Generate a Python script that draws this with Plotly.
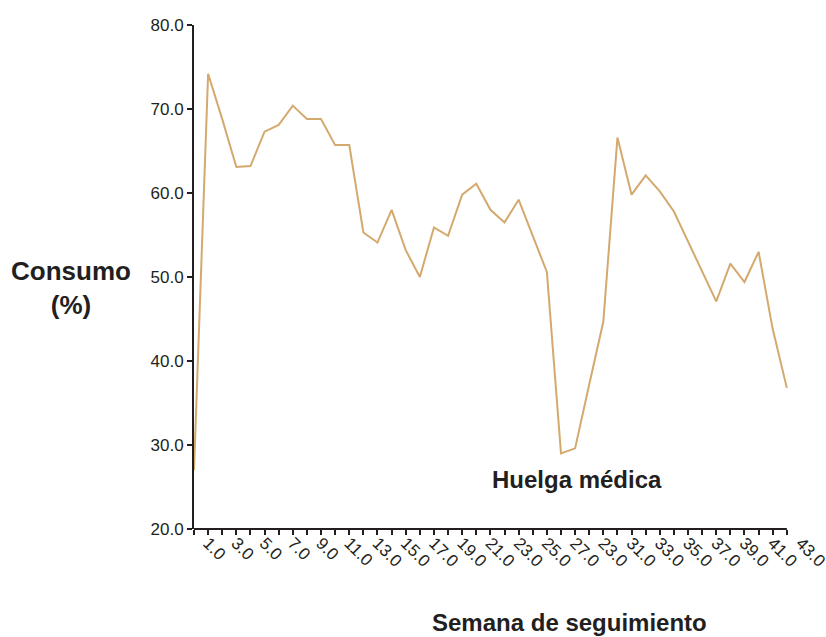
import plotly.graph_objects as go

semana = list(range(0, 43))
consumo = [27.0, 74.2, 68.8, 63.1, 63.2, 67.3, 68.1, 70.4, 68.8, 68.8,
           65.7, 65.7, 55.3, 54.1, 58.0, 53.2, 50.0, 55.9, 54.9, 59.8,
           61.1, 58.0, 56.5, 59.2, 54.9, 50.6, 29.0, 29.6, 37.2, 44.7,
           66.6, 59.8, 62.1, 60.2, 57.8, 54.2, 50.5, 47.1, 51.6, 49.4,
           53.0, 43.8, 36.8]

etiquetas_x = list(range(1, 44, 2))
etiquetas_txt = ["1.0", "3.0", "5.0", "7.0", "9.0", "11.0", "13.0", "15.0",
                 "17.0", "19.0", "21.0", "23.0", "25.0", "27.0", "23.0",
                 "31.0", "33.0", "35.0", "37.0", "39.0", "41.0", "43.0"]

fig = go.Figure()
fig.add_trace(go.Scatter(x=semana, y=consumo, mode="lines",
                         line=dict(color="#D4A96E", width=2),
                         showlegend=False, cliponaxis=True))

eje = "#231F20"
fuente = "Liberation Sans, Arial, sans-serif"

fig.update_xaxes(range=[0, 43.5], showline=False, showgrid=False, zeroline=False,
                 tickmode="array", tickvals=etiquetas_x, ticktext=etiquetas_txt,
                 ticks="", tickangle=45, automargin=False, ticklabeloverflow="allow",
                 tickfont=dict(family=fuente, size=17, color=eje),
                 minor=dict(tickmode="array", tickvals=semana, ticks="outside",
                            ticklen=5, tickwidth=1.5, tickcolor=eje))
fig.update_yaxes(range=[20, 80], dtick=10, tickformat=".1f", showgrid=False,
                 zeroline=False, showline=True, linecolor=eje, linewidth=2,
                 ticks="outside", ticklen=5, tickwidth=1.5, tickcolor=eje,
                 automargin=False,
                 tickfont=dict(family=fuente, size=17, color=eje))

# x axis line stops at the last week
fig.add_shape(type="line", xref="x", yref="paper", x0=0, x1=42, y0=0, y1=0,
              line=dict(color=eje, width=2))

ancho = 614
alto = 504
fig.add_annotation(text="<b>Consumo<br>(%)</b>", xref="paper", yref="paper",
                   x=(71 - 194) / ancho, y=(529 - 288) / alto, showarrow=False,
                   xanchor="center", yanchor="middle",
                   font=dict(family=fuente, size=26, color=eje), align="center")
fig.add_annotation(text="<b>Semana de seguimiento</b>", xref="paper", yref="paper",
                   x=(569 - 194) / ancho, y=-(622 - 529) / alto, showarrow=False,
                   xanchor="center", yanchor="middle",
                   font=dict(family=fuente, size=24, color=eje))
fig.add_annotation(text="<b>Huelga médica</b>", x=27.1, y=25.9, showarrow=False,
                   xanchor="center", yanchor="middle",
                   font=dict(family=fuente, size=24, color=eje))

fig.update_layout(width=826, height=637, plot_bgcolor="white", paper_bgcolor="white",
                  margin=dict(l=194, r=18, t=25, b=108))

# drop the default page margin so the 826x637 figure fits the window
fig.write_html("out.html", config={"displayModeBar": False},
               post_script="document.body.style.margin='0';")
